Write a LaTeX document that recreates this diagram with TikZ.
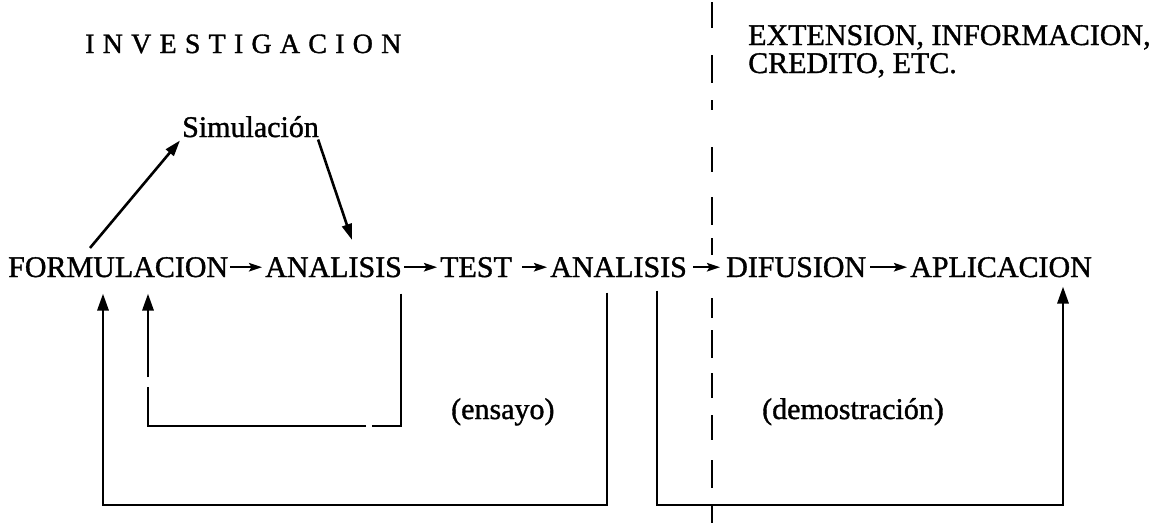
\documentclass[tikz,border=0pt]{standalone}
\usepackage{fontspec}
\setmainfont{Liberation Serif}[FakeBold=1.2]
\usetikzlibrary{arrows.meta,calc}
\newcommand\lsp{\kern8.2pt}
\begin{document}
\begin{tikzpicture}[x=1pt,y=-1pt,
  word/.style={inner sep=0pt, anchor=base west, font=\fontsize{30}{30}\selectfont},
  flow/.style={line width=2.2pt, -{Stealth[length=13pt,width=8.5pt,inset=2.5pt]}},
  diag/.style={line width=2.6pt, -{Triangle[length=16pt,width=10pt]}},
  loopline/.style={line width=2.9pt},
  looparrow/.style={loopline, -{Triangle[length=17pt,width=11pt]}},
  divider/.style={line width=2.3pt}]

\fill[white] (0,0) rectangle (1155,523);
\useasboundingbox (0,0) rectangle (1155,523);

% headings
\node[word, font=\fontsize{28}{28}\selectfont] (inv) at (85,53)
  {I\lsp N\lsp V\lsp E\lsp S\lsp T\lsp I\lsp G\lsp A\lsp C\lsp I\lsp O\lsp N};
\node[word] (ext1) at (748,45) {EXTENSION, INFORMACION,};
\node[word] (ext2) at (748,73) {CREDITO, ETC.};

\node[word] (sim) at (182,137) {Simulación};

% main sequence
\node[word] (formulacion) at (8,277)   {FORMULACION};
\node[word] (analisisA)   at (265,277) {ANALISIS};
\node[word] (test)        at (440,277) {TEST};
\node[word] (analisisB)   at (550,277) {ANALISIS};
\node[word] (difusion)    at (726,277) {DIFUSION};
\node[word] (aplicacion)  at (910,277) {APLICACION};

\draw[flow] ([xshift=2pt]formulacion.east) -- ([xshift=-3pt]analisisA.west);
\draw[flow] ([xshift=2pt]analisisA.east)   -- ([xshift=-3pt]test.west);
\draw[flow] ([xshift=10pt]test.east)       -- ([xshift=-3pt]analisisB.west);
\draw[flow] ([xshift=6pt]analisisB.east)   -- ([xshift=-6pt]difusion.west);
\draw[flow] ([xshift=4pt]difusion.east)    -- ([xshift=-3pt]aplicacion.west);

% simulation branch
\draw[diag] ([xshift=82pt,yshift=9pt]formulacion.north west) -- ([xshift=-2pt,yshift=-3pt]sim.south west);
\draw[diag] ([xshift=-1pt,yshift=-2pt]sim.south east) -- ([xshift=87pt,yshift=17pt]analisisA.north west);

% feedback loops
\coordinate (bl) at (0,505);
\coordinate (il) at (0,426);
\coordinate (oR) at ([xshift=57pt,yshift=-15pt]analisisB.south west);
\coordinate (oL) at ([xshift=95pt,yshift=-16pt]formulacion.south west);
\draw[looparrow] (oR) -- (oR |- bl) -| (oL);

\coordinate (iR) at ([xshift=136pt,yshift=-16pt]analisisA.south west);
\coordinate (iL) at ([xshift=140pt,yshift=-16pt]formulacion.south west);
\coordinate (gapA) at (372,426);
\coordinate (gapB) at (366,426);
\coordinate (gapC) at (148,387);
\coordinate (gapD) at (148,377);
\draw[loopline] (iR) |- (gapA);
\draw[loopline] (gapB) -| (gapC);
\draw[looparrow] (gapD) -- (iL);

\coordinate (rS) at ([xshift=107pt,yshift=-13pt]analisisB.south west);
\coordinate (rT) at ([xshift=153pt,yshift=-9pt]aplicacion.south west);
\draw[looparrow] (rS) -- (rS |- bl) -| (rT);

% phase labels
\node[word] (ensayo) at (451,419) {(ensayo)};
\node[word] (demo)   at (762,419) {(demostración)};

% dividing line between research and extension
\draw[divider]
  (712,2) -- (712,28)  (712,55) -- (712,83)  (712,100) -- (712,110)
  (712,147) -- (712,172)  (712,197) -- (712,225)  (712,238) -- (712,255)
  (712,298) -- (712,318)  (712,330) -- (712,358)  (712,373) -- (712,398)
  (712,415) -- (712,440)  (712,460) -- (712,488);
\draw[divider] (oR |- bl) ++(105,0) -- (712,523);
\end{tikzpicture}
\end{document}
